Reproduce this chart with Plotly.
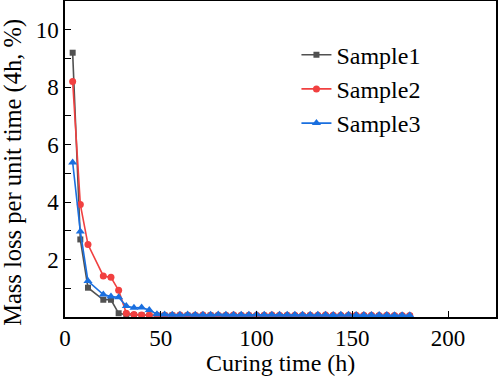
import plotly.graph_objects as go

time_h = [4, 8, 12, 20, 24, 28, 32, 36, 40, 44, 48, 52, 56, 60, 64, 68, 72, 76, 80, 84,
          88, 92, 96, 100, 104, 108, 112, 116, 120, 124, 128, 132, 136, 140, 144, 148,
          152, 156, 160, 164, 168, 172, 176, 180]

sample1 = [9.20, 2.70, 1.02, 0.60, 0.60, 0.13, 0.08, 0.07, 0.06, 0.05, 0.05,
           0.05, 0.05, 0.04, 0.05, 0.04, 0.04, 0.05, 0.04, 0.04, 0.04, 0.04,
           0.04, 0.03, 0.04, 0.04, 0.03, 0.04, 0.03, 0.03, 0.04, 0.03, 0.03,
           0.03, 0.03, 0.03, 0.03, 0.03, 0.02, 0.03, 0.03, 0.02, 0.02, 0.02]

sample2 = [8.20, 3.92, 2.52, 1.43, 1.38, 0.93, 0.13, 0.09, 0.07, 0.06, 0.06,
           0.06, 0.06, 0.07, 0.06, 0.06, 0.07, 0.06, 0.06, 0.06, 0.07, 0.06,
           0.06, 0.06, 0.06, 0.07, 0.06, 0.06, 0.06, 0.06, 0.06, 0.06, 0.07,
           0.06, 0.06, 0.06, 0.06, 0.06, 0.06, 0.05, 0.06, 0.05, 0.05, 0.05]

sample3 = [5.38, 2.98, 1.25, 0.78, 0.71, 0.69, 0.38, 0.32, 0.33, 0.24, 0.10,
           0.09, 0.08, 0.08, 0.09, 0.08, 0.08, 0.08, 0.09, 0.08, 0.08, 0.08,
           0.08, 0.09, 0.08, 0.08, 0.08, 0.08, 0.08, 0.08, 0.08, 0.08, 0.08,
           0.07, 0.08, 0.08, 0.07, 0.07, 0.07, 0.07, 0.07, 0.06, 0.06, 0.06]

names = ["Sample1", "Sample2", "Sample3"]
colors = ["#515151", "#F14040", "#1A6FDF"]
symbols = ["square", "circle", "triangle-up"]
sizes = [6, 7, 8]
series = [sample1, sample2, sample3]

x_ticks = [0, 50, 100, 150, 200]
y_ticks = [2, 4, 6, 8, 10]
x_title = "Curing time (h)"
y_title = "Mass loss per unit time (4h, %)"

fig = go.Figure()
for name, vals, c, s, sz in zip(names, series, colors, symbols, sizes):
    fig.add_trace(go.Scatter(
        x=time_h, y=vals, name=name, mode="lines+markers",
        line=dict(color=c, width=1.6),
        marker=dict(symbol=s, size=sz, color=c, line=dict(width=0)),
    ))

font_family = "Liberation Serif, DejaVu Serif, serif"
fig.update_layout(
    width=498, height=382,
    margin=dict(l=65, r=2, t=1, b=65, autoexpand=False),
    paper_bgcolor="white", plot_bgcolor="white",
    font=dict(family=font_family, size=23, color="black"),
    showlegend=True,
    legend=dict(x=0.537, y=0.9, xanchor="left", yanchor="top",
                bgcolor="rgba(0,0,0,0)", font=dict(size=24, family=font_family),
                tracegroupgap=0),
    annotations=[
        dict(text=x_title, xref="paper", yref="paper", x=(281 - 65) / 432, y=-(363 - 316.5) / 316.5,
             xanchor="center", yanchor="middle", showarrow=False,
             font=dict(size=24, family=font_family, color="black")),
        dict(text=y_title, xref="paper", yref="paper", x=-(65 - 13) / 432, y=(316.5 - 172) / 316.5,
             xanchor="center", yanchor="middle", showarrow=False, textangle=-90,
             font=dict(size=24.5, family=font_family, color="black")),
    ],
)
fig.update_xaxes(
    range=[0, 225], tickvals=x_ticks, ticktext=[str(v) for v in x_ticks],
    ticks="inside", ticklen=6, tickwidth=1.3, tickcolor="black",
    showline=True, linewidth=1.5, linecolor="black", mirror=True,
    showgrid=False, zeroline=False, automargin=False,
    tickfont=dict(family=font_family, size=23),
)
fig.update_yaxes(
    range=[0, 11], tickvals=y_ticks, ticktext=[str(v) for v in y_ticks],
    ticks="inside", ticklen=6, tickwidth=1.3, tickcolor="black",
    minor=dict(tickvals=[1, 3, 5, 7, 9], ticks="inside", ticklen=6, tickwidth=1.3, tickcolor="black"),
    showline=True, linewidth=1.5, linecolor="black", mirror=True,
    showgrid=False, zeroline=False, automargin=False,
    tickfont=dict(family=font_family, size=23),
)
fig.write_html("out.html", config={"displayModeBar": False},
               post_script="document.body.style.margin='0';document.body.style.padding='0';")
